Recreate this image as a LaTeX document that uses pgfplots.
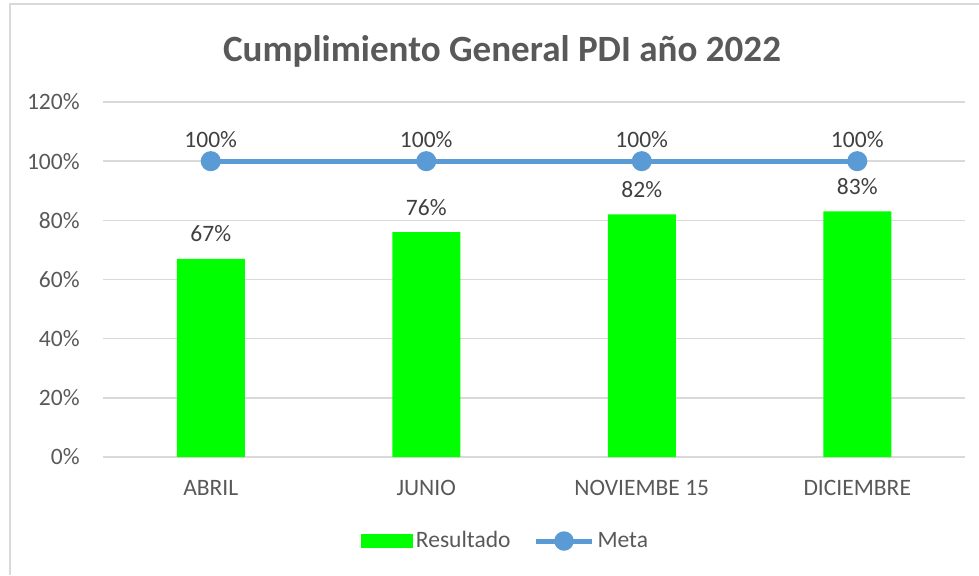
\documentclass[border=0pt]{standalone}
\usepackage{fontspec}
\setmainfont{Carlito}
\usepackage{pgfplots}
\pgfplotsset{compat=1.18}
\definecolor{txt}{HTML}{595959}
\definecolor{lbl}{HTML}{404040}
\definecolor{gridc}{HTML}{D9D9D9}
\definecolor{barg}{HTML}{00FF00}
\definecolor{metab}{HTML}{5B9BD5}
\begin{document}
\begin{tikzpicture}[x=1bp,y=1bp]
\useasboundingbox (0,0) rectangle (489.5,287.5);
\draw[color=gridc, line width=0.8bp] (5,0) -- (5,285.5) -- (489.5,285.5);
\node[font=\fontsize{18.6}{22}\selectfont\bfseries, text=txt] at (251,262) {Cumplimiento General PDI año 2022};
\begin{axis}[
  at={(51.5bp,59bp)}, anchor=south west,
  scale only axis, width=431bp, height=177.5bp,
  xmin=-0.5, xmax=3.5, ymin=0, ymax=120,
  axis line style={draw=none},
  major tick length=0pt,
  ytick={0,20,40,60,80,100,120},
  yticklabel={\pgfmathprintnumber{\tick}\%},
  /pgf/number format/assume math mode=true,
  ymajorgrids, grid style={color=gridc, line width=0.8bp},
  xtick={0,1,2,3},
  xticklabels={ABRIL,JUNIO,NOVIEMBE 15,DICIEMBRE},
  tick label style={font=\fontsize{11.8}{14}\selectfont, text=txt},
  yticklabel style={anchor=east, inner sep=0pt, xshift=-11.5bp},
  xticklabel style={anchor=base, inner sep=0pt, yshift=-19bp},
  clip=false,
  legend style={draw=none, fill=none, at={(rel axis cs:0.4675,0)}, yshift=-42bp, anchor=center,
    font=\fontsize{11.8}{14}\selectfont, text=txt, legend columns=2,
    /tikz/every even column/.append style={column sep=10bp},
    nodes={inner ysep=3bp, inner xsep=1.5bp}},
]
\addplot[ybar, bar width=34bp, bar shift=0pt, fill=barg, draw=none,
  nodes near coords={\pgfmathprintnumber{\pgfplotspointmeta}\%},
  every node near coord/.style={anchor=base, inner sep=0pt, yshift=8.5bp, font=\fontsize{11.8}{14}\selectfont, text=lbl},
  legend image code/.code={\fill[barg] (0bp,-3.5bp) rectangle (26bp,3.5bp);}]
  coordinates {(0,67) (1,76) (2,82) (3,83)};
\addlegendentry{Resultado}
\addplot[color=metab, line width=2.5bp, mark=*, mark size=3.75bp, mark options={fill=metab, draw=none},
  nodes near coords={\pgfmathprintnumber{\pgfplotspointmeta}\%},
  every node near coord/.style={anchor=base, inner sep=0pt, yshift=7bp, font=\fontsize{11.8}{14}\selectfont, text=lbl},
  legend image code/.code={\draw[metab, line width=2.5bp] (0bp,0bp) -- (28bp,0bp); \fill[metab] (14bp,0bp) circle (3.6bp);}]
  coordinates {(0,100) (1,100) (2,100) (3,100)};
\addlegendentry{Meta}
\end{axis}
\end{tikzpicture}
\end{document}
